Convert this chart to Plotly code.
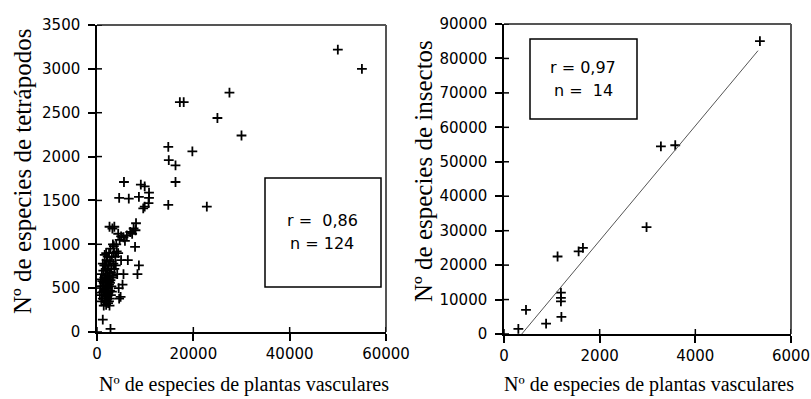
import numpy as np
import plotly.graph_objects as go

# ---------------- data ----------------
# Left panel: vascular plants vs tetrapods (n = 124)
plants_left = [
    50000, 55000, 27500, 17200, 18000, 25000, 30000, 14800, 19800, 14900, 16300, 16300, 14800, 22800,
    5600, 9100, 9900, 4600, 6600, 8700, 10800, 10800, 10700, 9600, 9900,
    8100, 7600, 6900, 6200, 5500, 5000, 4400, 3600, 2600, 3200, 8000, 7300, 4700, 5800, 4000, 3500,
    7900, 8700, 8400, 6400, 5000, 5300, 4900, 4600, 5500, 4200, 4500, 4100, 3800, 4400, 1200, 2800,
    800, 1000, 1100, 1200, 1300, 1400, 1500, 1500, 1600, 1700, 1700, 1800, 1800, 1900, 1900, 2000,
    2000, 2100, 2100, 2200, 2200, 2300, 2300, 2400, 2400, 2500, 2500, 2600, 2600, 2700, 2700, 2800,
    2800, 2900, 3000, 3000, 3100, 3200, 3300, 3400, 600, 700, 900, 1000, 1200, 1300, 1400, 1600,
    1700, 2000, 2200, 2400, 2600, 2900, 3500, 3600, 3900, 1100, 1800, 2300,
    1500, 2100, 2500, 2700, 3100, 1900, 3300,
]
tetrapods = [
    3220, 3000, 2730, 2620, 2620, 2440, 2240, 2110, 2060, 1960, 1900, 1710, 1450, 1430,
    1710, 1680, 1660, 1530, 1520, 1540, 1590, 1530, 1470, 1410, 1430,
    1240, 1180, 1140, 1100, 1080, 1090, 1120, 1200, 1200, 1180, 1160, 1120, 1050, 1040, 1000, 980,
    970, 760, 660, 820, 820, 540, 400, 380, 660, 660, 500, 920, 860, 900, 140, 35,
    600, 450, 520, 380, 700, 560, 480, 620, 350, 420, 760, 530, 640, 310, 470, 580,
    820, 400, 700, 500, 860, 330, 620, 450, 760, 540, 900, 380, 680, 470, 800, 590,
    950, 420, 720, 520, 860, 640, 1000, 780, 420, 520, 350, 660, 780, 460, 300, 880,
    600, 360, 440, 580, 300, 680, 900, 720, 760, 580, 720, 520,
    760, 600, 350, 560, 460, 900, 620,
]

# Right panel: vascular plants vs insects (n = 14)
plants_right = [5350, 3280, 3580, 2980, 1560, 1650, 1120, 1190, 1190, 1190, 1200, 880, 460, 300]
insects = [85000, 54500, 54800, 31000, 24000, 25000, 22500, 12000, 10500, 9500, 5000, 3000, 7000, 1500]
trend_x_end = 5310

left_xticks = [0, 20000, 40000, 60000]
left_yticks = [0, 500, 1000, 1500, 2000, 2500, 3000, 3500]
right_xticks = [0, 2000, 4000, 6000]
right_yticks = [0, 10000, 20000, 30000, 40000, 50000, 60000, 70000, 80000, 90000]

left_stats = ["r =\u00a0 0,86", "n = 124"]
right_stats = ["r = 0,97", "n =\u00a0 14"]
x_title = "Nº de especies de plantas vasculares"
left_y_title = "Nº de especies de tetrápodos"
right_y_title = "Nº de especies de insectos"

# ---------------- figure ----------------
W, H = 811, 399
def fx(p):
    return p / W
def fy(p):
    return 1 - p / H

fig = go.Figure()

marker = dict(symbol="cross-thin", size=7, color="black", line=dict(color="black", width=1.8))
fig.add_trace(go.Scatter(x=plants_left, y=tetrapods, mode="markers", marker=marker,
                         xaxis="x", yaxis="y", showlegend=False, hoverinfo="x+y"))
fig.add_trace(go.Scatter(x=plants_right, y=insects, mode="markers", marker=marker,
                         xaxis="x2", yaxis="y2", showlegend=False, hoverinfo="x+y"))

slope, intercept = np.polyfit(plants_right, insects, 1)
x0 = -intercept / slope
fit_x = [x0, trend_x_end]
fit_y = [slope * v + intercept for v in fit_x]
fig.add_trace(go.Scatter(x=fit_x, y=fit_y, mode="lines", line=dict(color="#555", width=1),
                         xaxis="x2", yaxis="y2", showlegend=False, hoverinfo="skip"))

tickfont = dict(family="DejaVu Sans, Verdana, sans-serif", size=15, color="black")
common = dict(showgrid=False, zeroline=False, showline=True, linecolor="black", linewidth=1.5,
              ticks="outside", ticklen=7, tickwidth=1.5, tickcolor="black", tickfont=tickfont,
              automargin=False, fixedrange=True)

fig.update_layout(
    width=W, height=H,
    margin=dict(l=0, r=0, t=0, b=0),
    paper_bgcolor="white", plot_bgcolor="white",
    xaxis=dict(domain=[fx(97), fx(386)], range=[0, 60000], tickvals=left_xticks,
               ticktext=[str(v) for v in left_xticks], anchor="y", **common),
    yaxis=dict(domain=[fy(332), fy(25)], range=[0, 3500], tickvals=left_yticks,
               ticktext=[str(v) for v in left_yticks], anchor="x", ticklabelstandoff=5, **common),
    xaxis2=dict(domain=[fx(504), fx(791)], range=[0, 6000], tickvals=right_xticks,
                ticktext=[str(v) for v in right_xticks], anchor="y2", **common),
    yaxis2=dict(domain=[fy(334), fy(24)], range=[0, 90000], tickvals=right_yticks,
                ticktext=[str(v) for v in right_yticks], anchor="x2", ticklabelstandoff=5, **common),
)

shapes = []
# gray top / right frame
for xa, ya in [("x", "y"), ("x2", "y2")]:
    shapes.append(dict(type="line", xref=xa + " domain", yref=ya + " domain", x0=0, x1=1, y0=1, y1=1,
                       line=dict(color="#555", width=2)))
    shapes.append(dict(type="line", xref=xa + " domain", yref=ya + " domain", x0=1, x1=1, y0=0, y1=1,
                       line=dict(color="#555", width=2)))
# inner halves of crossing ticks
for xa, ya, xt, yt in [("x", "y", left_xticks, left_yticks), ("x2", "y2", right_xticks, right_yticks)]:
    for v in xt:
        shapes.append(dict(type="line", xref=xa, x0=v, x1=v, yref=ya + " domain", ysizemode="pixel",
                           yanchor=0, y0=0, y1=5, line=dict(color="black", width=1.5)))
    for v in yt:
        shapes.append(dict(type="line", yref=ya, y0=v, y1=v, xref=xa + " domain", xsizemode="pixel",
                           xanchor=0, x0=0, x1=5, line=dict(color="black", width=1.5)))
# stats boxes
shapes.append(dict(type="rect", xref="paper", yref="paper", x0=fx(265), x1=fx(381), y0=fy(287), y1=fy(178),
                   line=dict(color="black", width=1.5)))
shapes.append(dict(type="rect", xref="paper", yref="paper", x0=fx(530), x1=fx(637), y0=fy(119), y1=fy(39),
                   line=dict(color="black", width=1.5)))
fig.update_layout(shapes=shapes)

boxfont = dict(family="DejaVu Sans, Verdana, sans-serif", size=16, color="black")
serif_x = dict(family="Liberation Serif, Times New Roman, serif", size=20, color="black")
serif_y = dict(family="Liberation Serif, Times New Roman, serif", size=25, color="black")
ann = []
for txt, cx, cy in [(left_stats[0], 322, 220), (left_stats[1], 322, 243),
                    (right_stats[0], 583, 67), (right_stats[1], 583, 90)]:
    ann.append(dict(text=txt, x=fx(cx), y=fy(cy), xref="paper", yref="paper", showarrow=False,
                    xanchor="center", yanchor="middle", font=boxfont))
ann.append(dict(text=x_title, x=fx(244), y=fy(384), xref="paper", yref="paper", showarrow=False,
                xanchor="center", yanchor="middle", font=serif_x))
ann.append(dict(text=x_title, x=fx(649), y=fy(384), xref="paper", yref="paper", showarrow=False,
                xanchor="center", yanchor="middle", font=serif_x))
ann.append(dict(text=left_y_title, x=fx(22), y=fy(172), xref="paper", yref="paper", showarrow=False,
                xanchor="center", yanchor="middle", textangle=-90, font=serif_y))
ann.append(dict(text=right_y_title, x=fx(423), y=fy(171), xref="paper", yref="paper", showarrow=False,
                xanchor="center", yanchor="middle", textangle=-90, font=serif_y))
fig.update_layout(annotations=ann)

fig.write_html("out.html", config={"displayModeBar": False},
               post_script="document.body.style.margin='0';document.body.style.overflow='hidden';")
